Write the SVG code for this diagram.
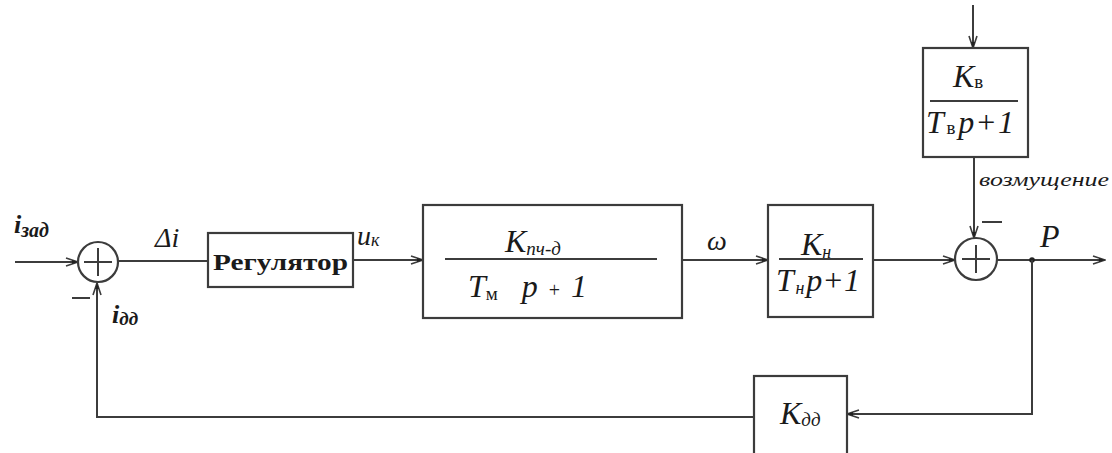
<svg xmlns="http://www.w3.org/2000/svg" width="1112" height="453" viewBox="0 0 1112 453">
<style>
.ln{fill:none;stroke:#3c3c3c;stroke-width:2}
.bx{fill:#fff;stroke:#3c3c3c;stroke-width:2.2}
text{font-family:"Liberation Serif","Times New Roman",serif;fill:#1a1a1a}
.t{font-style:italic}
.u{font-style:normal}
</style>
<defs>
<marker id="ar" markerWidth="14" markerHeight="10" refX="13" refY="5" orient="auto" markerUnits="userSpaceOnUse">
<path d="M1,1 L13,5 L1,9" fill="none" stroke="#3c3c3c" stroke-width="1.6"/>
<path d="M7,3 L13,5 L7,7 Z" fill="#222"/>
</marker>
</defs>
<rect width="1112" height="453" fill="#fff"/>
<g id="connectors">
<line class="ln" x1="15" y1="262" x2="78" y2="262" marker-end="url(#ar)"/>
<line class="ln" x1="118" y1="261" x2="208" y2="261"/>
<line class="ln" x1="353" y1="260" x2="423" y2="260" marker-end="url(#ar)"/>
<line class="ln" x1="682" y1="260" x2="768" y2="260" marker-end="url(#ar)"/>
<line class="ln" x1="873" y1="260" x2="955" y2="260" marker-end="url(#ar)"/>
<line class="ln" x1="997" y1="260" x2="1105" y2="260" marker-end="url(#ar)"/>
<circle cx="1032" cy="260" r="2.8" fill="#222"/>
<polyline class="ln" points="1032,260 1032,414 847,414" marker-end="url(#ar)"/>
<polyline class="ln" points="754,417 97,417 97,283" marker-end="url(#ar)"/>
<line class="ln" x1="973" y1="5" x2="973" y2="48" marker-end="url(#ar)"/>
<line class="ln" x1="974" y1="157" x2="974" y2="238" marker-end="url(#ar)"/>
<line class="ln" x1="72" y1="298" x2="90" y2="298"/>
<line class="ln" x1="982" y1="222" x2="1002" y2="222"/>
</g>
<g id="sum1">
<circle class="bx" cx="98" cy="262" r="20"/>
<line class="ln" x1="84" y1="262" x2="112" y2="262" stroke-width="1.6"/>
<line class="ln" x1="98" y1="248" x2="98" y2="276" stroke-width="1.6"/>
</g>
<g id="sum2">
<circle class="bx" cx="976" cy="259" r="21"/>
<line class="ln" x1="962" y1="259" x2="990" y2="259" stroke-width="1.6"/>
<line class="ln" x1="976" y1="245" x2="976" y2="273" stroke-width="1.6"/>
</g>
<g id="regulator">
<rect class="bx" x="208" y="233" width="145" height="54"/>
<text class="u" x="213" y="270" font-size="24" font-weight="bold" textLength="135" lengthAdjust="spacingAndGlyphs">Регулятор</text>
</g>
<g id="motor">
<rect class="bx" x="423" y="205" width="259" height="113"/>
<line class="ln" x1="445" y1="259" x2="657" y2="259"/>
<text class="t" x="505" y="252" font-size="32">K<tspan font-size="19" dy="3">пч-д</tspan></text>
<text class="t" x="468" y="297" font-size="32">T<tspan class="u" font-size="19" dy="3">м</tspan><tspan dy="-3" dx="24">p</tspan><tspan class="u" dx="11" font-size="20">+</tspan><tspan dx="11">1</tspan></text>
</g>
<g id="pump">
<rect class="bx" x="768" y="205" width="105" height="112"/>
<line class="ln" x1="779" y1="259" x2="863" y2="259"/>
<text class="t" x="801" y="255" font-size="32">K<tspan font-size="18" dy="3">н</tspan></text>
<text class="t" x="776" y="291" font-size="32" textLength="84" lengthAdjust="spacing">T<tspan font-size="18" dy="3">н</tspan><tspan dy="-3">p</tspan><tspan class="u">+</tspan>1</text>
</g>
<g id="disturbance">
<rect class="bx" x="923" y="48" width="105" height="109"/>
<line class="ln" x1="930" y1="101" x2="1018" y2="101"/>
<text class="t" x="953" y="87" font-size="32">K<tspan class="u" font-size="19" dy="1">в</tspan></text>
<text class="t" x="926" y="133" font-size="32" textLength="88" lengthAdjust="spacing">T<tspan class="u" font-size="19" dy="1">в</tspan><tspan dy="-1">p</tspan><tspan class="u">+</tspan>1</text>
</g>
<g id="sensor">
<rect class="bx" x="754" y="376" width="93" height="90"/>
<text class="t" x="780" y="424" font-size="32">K<tspan font-size="19" dy="2">дд</tspan></text>
</g>
<g id="labels">
<text class="t" x="14" y="233" font-size="26" font-weight="bold">i<tspan font-size="20" dy="4">зад</tspan></text>
<text class="t" x="155" y="247" font-size="28">Δi</text>
<text class="t" x="112" y="323" font-size="26" font-weight="bold">i<tspan font-size="19" dy="2">дд</tspan></text>
<text class="t" x="357" y="245" font-size="28">u<tspan font-size="18" dy="1">к</tspan></text>
<text class="t" x="707" y="250" font-size="28">ω</text>
<text class="t" x="1040" y="247" font-size="32">P</text>
<text class="t" x="979" y="186" font-size="18" textLength="130" lengthAdjust="spacingAndGlyphs">возмущение</text>
</g>
</svg>
